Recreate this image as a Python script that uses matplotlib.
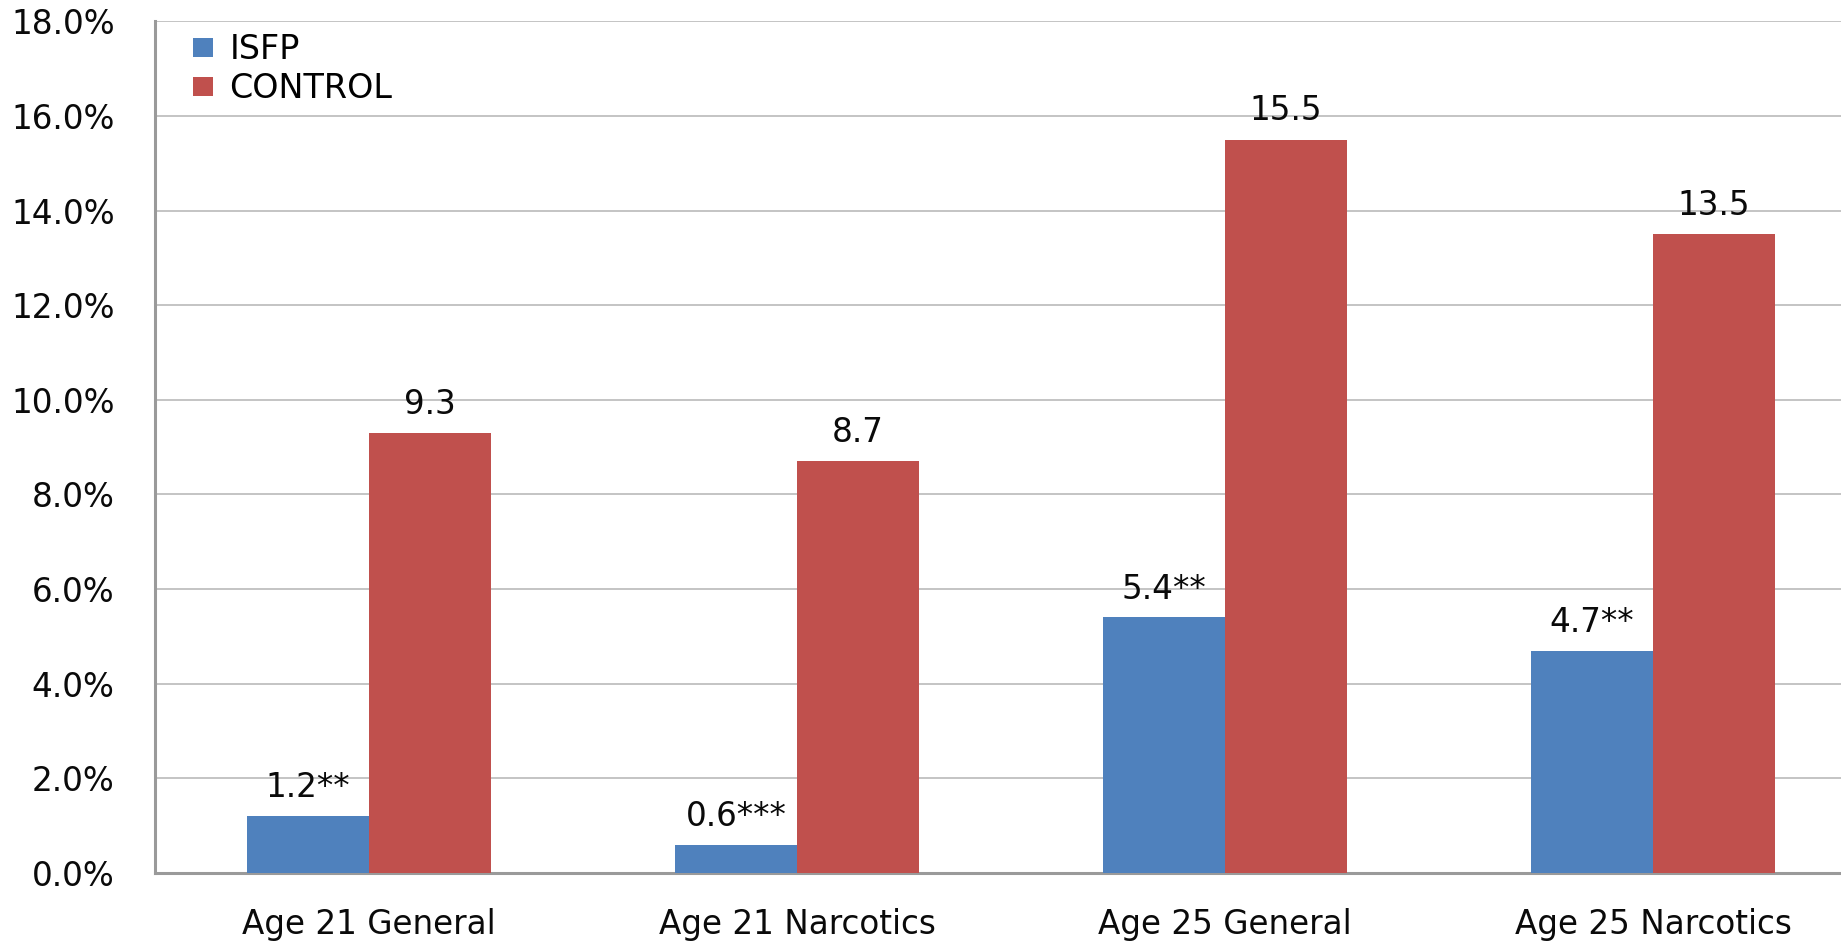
import matplotlib.pyplot as plt
import numpy as np

# 各组别的比例（%）
categories = ['Age 21 General', 'Age 21 Narcotics', 'Age 25 General', 'Age 25 Narcotics']
isfp = [1.2, 0.6, 5.4, 4.7]
control = [9.3, 8.7, 15.5, 13.5]
isfp_labels = ['1.2**', '0.6***', '5.4**', '4.7**']
control_labels = ['9.3', '8.7', '15.5', '13.5']
yticks = np.arange(0, 18.1, 2)

plt.rcParams['font.family'] = ['DejaVu Sans']

fig = plt.figure(figsize=(18.41, 9.41), dpi=100)
ax = fig.add_axes([0.0842, 0.0723, 0.9300, 0.9050])

x = np.arange(len(categories))
w = 0.285
b1 = ax.bar(x - w / 2, isfp, w, color='#4F81BD', label='ISFP', zorder=3)
b2 = ax.bar(x + w / 2, control, w, color='#C0504D', label='CONTROL', zorder=3)

# 柱顶数值标注
for rect, txt in zip(b1, isfp_labels):
    ax.annotate(txt, (rect.get_x() + rect.get_width() / 2, rect.get_height()),
                xytext=(0, 13.5), textcoords='offset points',
                ha='center', va='baseline', fontsize=23.5, color='#0a0a0a')
for rect, txt in zip(b2, control_labels):
    ax.annotate(txt, (rect.get_x() + rect.get_width() / 2, rect.get_height()),
                xytext=(0, 14), textcoords='offset points',
                ha='center', va='baseline', fontsize=23.5, color='#0a0a0a')

ax.set_xlim(-0.5, len(categories) - 0.5)
ax.set_ylim(0, 18)
ax.set_yticks(yticks)
ax.set_yticklabels(['%.1f%%' % v for v in yticks])
ax.set_xticks(x)
ax.set_xticklabels(categories)
ax.tick_params(axis='y', length=0, pad=29, labelsize=23.5, labelcolor='#0a0a0a')
ax.tick_params(axis='x', length=0, pad=25, labelsize=23.5, labelcolor='#0a0a0a')

ax.yaxis.grid(True, color='#c4c4c4', linewidth=1.4, zorder=0)
ax.set_axisbelow(True)
for side in ['top', 'right']:
    ax.spines[side].set_visible(False)
for side in ['left', 'bottom']:
    ax.spines[side].set_color('#9a9a9a')
    ax.spines[side].set_linewidth(2.2)

fig.legend(handles=[b1, b2], loc='upper left', bbox_to_anchor=(0.1048, 0.965),
           frameon=False, fontsize=24, handlelength=0.6, handleheight=0.5,
           handletextpad=0.5, labelspacing=0.18, borderpad=0, borderaxespad=0)

fig.savefig('out.png', dpi=100, facecolor='white')
